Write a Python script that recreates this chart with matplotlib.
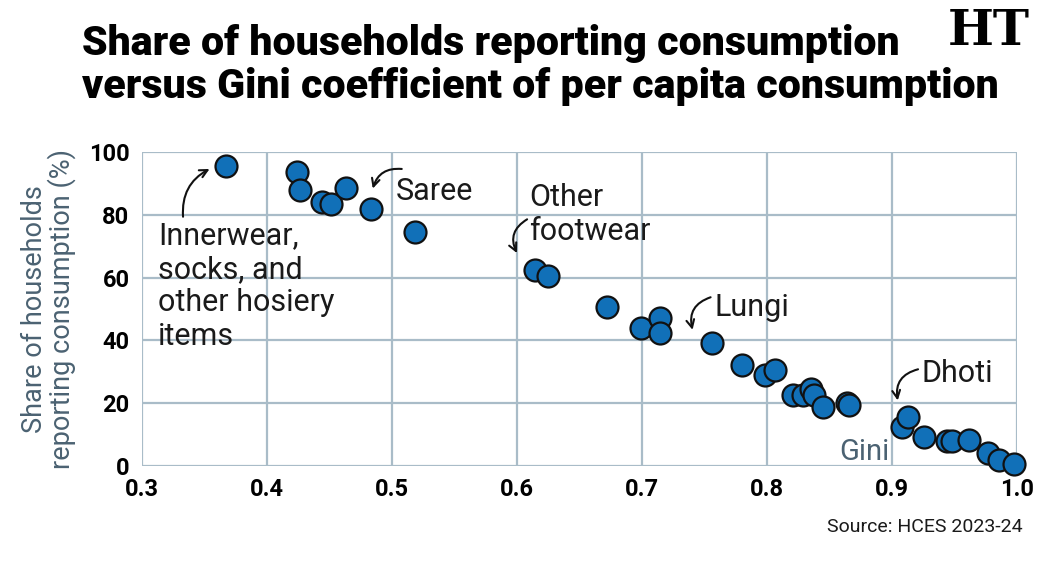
import matplotlib.pyplot as plt

gini = [0.367, 0.424, 0.426, 0.444, 0.451, 0.463, 0.483, 0.518,
        0.614, 0.625, 0.672, 0.699, 0.714, 0.714, 0.756, 0.780,
        0.798, 0.806, 0.821, 0.829, 0.835, 0.838, 0.845, 0.864, 0.866,
        0.908, 0.913, 0.926, 0.944, 0.948, 0.962, 0.977, 0.986, 0.998]
share = [95.5, 93.5, 88.0, 84.0, 83.4, 88.5, 82.0, 74.5,
         62.5, 60.5, 50.6, 44.0, 47.0, 42.4, 39.3, 32.2,
         29.0, 30.6, 22.5, 22.5, 24.5, 22.6, 18.9, 20.0, 19.5,
         12.5, 15.5, 9.3, 7.8, 7.8, 8.2, 4.1, 2.0, 0.5]

xticks = [0.3, 0.4, 0.5, 0.6, 0.7, 0.8, 0.9, 1.0]
yticks = [0, 20, 40, 60, 80, 100]

FONT = ['Roboto', 'DejaVu Sans']
plt.rcParams['font.family'] = FONT

blue = '#1170b8'
grid = '#a9bcc8'
slate = '#4b6272'

fig = plt.figure(figsize=(10.42, 5.64), dpi=100)
ax = fig.add_axes([0.1363, 0.1738, 0.8397, 0.5567])

ax.scatter(gini, share, s=250, color=blue, edgecolor='#111111', linewidth=1.6,
           zorder=3, clip_on=False)

ax.set_xlim(0.3, 1.0)
ax.set_ylim(0, 100)
ax.set_xticks(xticks)
ax.set_xticklabels([f'{t:.1f}' for t in xticks])
ax.set_yticks(yticks)
ax.grid(True, color=grid, linewidth=1.6)
ax.set_axisbelow(True)
for s in ax.spines.values():
    s.set_visible(False)
ax.tick_params(length=0, labelsize=17, pad=9)
for lab in ax.get_xticklabels() + ax.get_yticklabels():
    lab.set_fontweight('bold')

ax.set_ylabel('Share of households\nreporting consumption (%)', fontsize=19.5,
              color=slate, linespacing=1.0, labelpad=9)

# annotations
txt = dict(fontsize=22, color='#1a1a1a', linespacing=1.2)
arr = dict(arrowstyle='->', color='#111111', lw=1.5, mutation_scale=14)

ax.text(0.313, 78, 'Innerwear,\nsocks, and\nother hosiery\nitems', va='top', **txt)
ax.annotate('', xy=(0.356, 95), xytext=(0.333, 78.5),
            arrowprops=dict(connectionstyle='arc3,rad=-0.35', **arr))

ax.text(0.503, 87.5, 'Saree', va='center', **txt)
ax.annotate('', xy=(0.484, 87.5), xytext=(0.51, 94.5),
            arrowprops=dict(connectionstyle='arc3,rad=0.45', **arr))

ax.text(0.610, 80, 'Other\nfootwear', va='center', **txt)
ax.annotate('', xy=(0.601, 67), xytext=(0.61, 79),
            arrowprops=dict(connectionstyle='arc3,rad=0.5', **arr))

ax.text(0.758, 50.5, 'Lungi', va='center', **txt)
ax.annotate('', xy=(0.741, 42.5), xytext=(0.757, 54),
            arrowprops=dict(connectionstyle='arc3,rad=0.5', **arr))

ax.text(0.924, 29.5, 'Dhoti', va='center', **txt)
ax.annotate('', xy=(0.905, 20), xytext=(0.923, 31),
            arrowprops=dict(connectionstyle='arc3,rad=0.5', **arr))

ax.text(0.898, 4.5, 'Gini', ha='right', va='center', fontsize=21, color=slate)

title_kw = dict(fontsize=29.6, fontweight='black', va='baseline')
fig.text(0.079, 0.9025, 'Share of households reporting consumption', **title_kw)
fig.text(0.079, 0.8262, 'versus Gini coefficient of per capita consumption', **title_kw)
fig.text(0.9885, 0.985, 'HT', fontsize=35, fontweight='bold', ha='right',
         va='top', family=['DejaVu Serif'])
fig.text(0.981, 0.065, 'Source: HCES 2023-24', fontsize=14, ha='right',
         va='center', color='#1a1a1a')

fig.savefig('out.png', dpi=100)
